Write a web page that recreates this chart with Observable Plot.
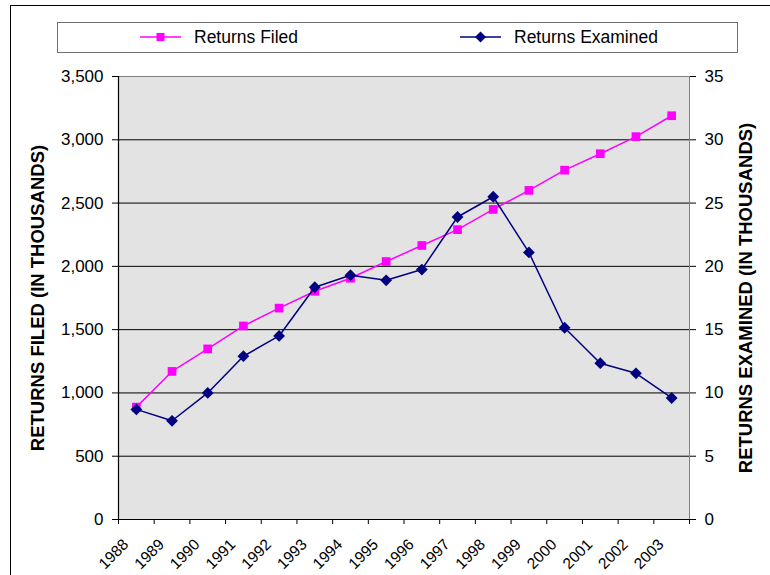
<!DOCTYPE html>
<html><head><meta charset="utf-8">
<script src="https://cdn.jsdelivr.net/npm/d3@7"></script>
<script src="https://cdn.jsdelivr.net/npm/@observablehq/plot@0.6"></script>
<style>
body{margin:0;background:#fff;overflow:hidden;font-family:"Liberation Sans",Arial,sans-serif;}
#wrap{position:relative;width:770px;height:575px;overflow:hidden;}
#chart{position:absolute;left:0;top:0;}
#border{position:absolute;left:10px;top:5px;width:800px;height:700px;border:1px solid #000;pointer-events:none;z-index:3;}
#legend{position:absolute;left:57px;top:22px;width:679px;height:29px;border:1px solid #707070;background:#fff;z-index:2;}
</style></head><body>
<div id="wrap"><div id="chart"></div><div id="legend"></div><div id="border"></div></div>
<script>
// ---- data ----
const years = [1988,1989,1990,1991,1992,1993,1994,1995,1996,1997,1998,1999,2000,2001,2002,2003];
const filed = [888,1170,1348,1529,1670,1803,1906,2038,2165,2290,2450,2600,2760,2890,3025,3190];   // thousands
const examined = [8.7,7.8,10.0,12.9,14.5,18.35,19.3,18.9,19.75,23.9,25.5,21.1,15.15,12.35,11.55,9.6]; // thousands
const leftTicks = [0,500,1000,1500,2000,2500,3000,3500];
const rightTicks = [0,5,10,15,20,25,30,35];
const seriesNames = ["Returns Filed","Returns Examined"];
const axisTitles = ["RETURNS FILED (IN THOUSANDS)","RETURNS EXAMINED (IN THOUSANDS)"];
const colors = ["#ff00ff","#000080"];

const ratio = leftTicks[leftTicks.length-1] / rightTicks[rightTicks.length-1];
const data = years.map((y,i)=>({year:y, filed:filed[i], examined:examined[i]}));
const bounds = [...years.map(y=>y-0.5), years[years.length-1]+0.5];

const diamond = {draw(ctx, size){ const r = Math.sqrt(size/2); ctx.moveTo(0,-r); ctx.lineTo(r,0); ctx.lineTo(0,r); ctx.lineTo(-r,0); ctx.closePath(); }};

const chart = Plot.plot({
  width:770, height:575,
  marginLeft:118, marginRight:81, marginTop:76, marginBottom:56,
  style:{background:"transparent", fontFamily:"Liberation Sans, Arial, sans-serif", fontSize:"17px", color:"#000", overflow:"visible"},
  x:{type:"linear", domain:[bounds[0], bounds[bounds.length-1]]},
  y:{domain:[leftTicks[0], leftTicks[leftTicks.length-1]]},
  marks:[
    Plot.frame({fill:"#e3e3e3", stroke:"#808080"}),
    Plot.ruleY(leftTicks.slice(1,-1), {stroke:"#000", strokeWidth:1}),
    Plot.ruleX([bounds[0]], {stroke:"#000", strokeWidth:1.2}),
    Plot.ruleY([leftTicks[0]], {stroke:"#000", strokeWidth:1.2}),
    Plot.axisY({ticks:leftTicks, tickFormat:d3.format(","), tickSize:6, tickPadding:9, label:null, fontSize:17}),
    Plot.axisY({anchor:"right", ticks:rightTicks.map(v=>v*ratio), tickFormat:d=>String(d/ratio), tickSize:6, tickPadding:9, label:null, fontSize:17}),
    Plot.axisX({ticks:bounds, tickFormat:()=>"", tickSize:5, label:null}),
    Plot.text(years, {x:d=>d, y:leftTicks[0], text:d=>String(d), rotate:-45, textAnchor:"end", lineAnchor:"bottom", dx:-7, dy:26, fontSize:15.5}),
    Plot.line(data, {x:"year", y:"filed", stroke:colors[0], strokeWidth:1.5}),
    Plot.dot(data, {x:"year", y:"filed", symbol:"square", r:4.9, fill:colors[0], stroke:"none"}),
    Plot.line(data, {x:"year", y:d=>d.examined*ratio, stroke:colors[1], strokeWidth:1.5}),
    Plot.dot(data, {x:"year", y:d=>d.examined*ratio, symbol:diamond, r:4.7, fill:colors[1], stroke:"none"}),
    Plot.text([axisTitles[0]], {text:d=>d, frameAnchor:"left", textAnchor:"middle", rotate:-90, dx:-80, fontWeight:"bold", fontSize:18.5}),
    Plot.text([axisTitles[1]], {text:d=>d, frameAnchor:"right", textAnchor:"middle", rotate:-90, dx:57, fontWeight:"bold", fontSize:18.5})
  ]
});
document.getElementById("chart").appendChild(chart);

// legend
const leg = d3.select("#legend").append("svg").attr("width",679).attr("height",29)
  .style("font-family","Liberation Sans, Arial, sans-serif").style("font-size","17.5px");
const legX = [82, 402];
seriesNames.forEach((name,i)=>{
  const g = leg.append("g").attr("transform",`translate(${legX[i]},14)`);
  g.append("line").attr("x1",0).attr("x2",41).attr("stroke",colors[i]).attr("stroke-width",1.5);
  if(i===0) g.append("rect").attr("x",16.5).attr("y",-4).attr("width",8).attr("height",8).attr("fill",colors[i]);
  else g.append("path").attr("d","M20.5,-5.5L26,0L20.5,5.5L15,0Z").attr("fill",colors[i]);
  g.append("text").attr("x",54).attr("dy","0.35em").text(name);
});
</script>
</body></html>
